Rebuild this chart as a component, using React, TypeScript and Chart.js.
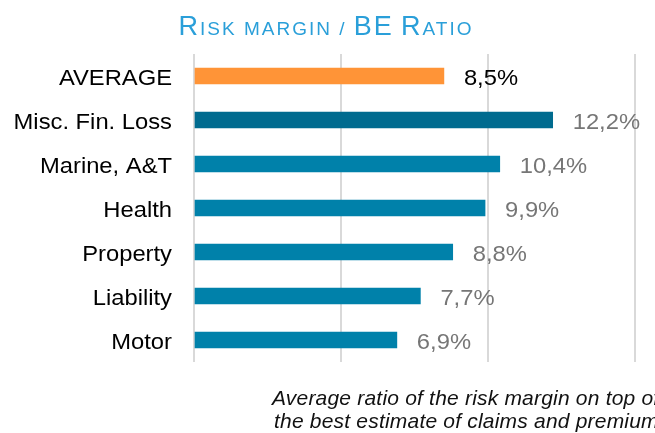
import React, { useEffect, useRef } from "react";
import { Chart, registerables } from "chart.js";

Chart.register(...registerables);

const categories = ["AVERAGE", "Misc. Fin. Loss", "Marine, A&T", "Health", "Property", "Liability", "Motor"];
const values = [8.5, 12.2, 10.4, 9.9, 8.8, 7.7, 6.9];
const barColors = ["#FF9437", "#006B8F", "#0081AA", "#0081AA", "#0081AA", "#0081AA", "#0081AA"];
const labelColors = ["#000000", "#767676", "#767676", "#767676", "#767676", "#767676", "#767676"];
const xTickValues = [0, 5, 10, 15];
const titleSegments = [
  { text: "R", big: true },
  { text: "ISK MARGIN / ", big: false },
  { text: "BE", big: true },
  { text: " ", big: false },
  { text: "R", big: true },
  { text: "ATIO", big: false },
];
const footnoteLines = [
  "Average ratio of the risk margin on top of",
  "the best estimate of claims and premium",
];

const FONT = "'Liberation Sans', Arial, sans-serif";
const STRETCH = 1.08;

const fmt = (v: number) => v.toFixed(1).replace(".", ",") + "%";

function drawStretched(ctx: CanvasRenderingContext2D, text: string, x: number, y: number) {
  ctx.save();
  ctx.translate(x, y);
  ctx.scale(STRETCH, 1);
  ctx.fillText(text, 0, 0);
  ctx.restore();
}

const textPlugin = {
  id: "customText",
  afterDatasetsDraw(chart: any) {
    const ctx = chart.ctx as CanvasRenderingContext2D;
    const meta = chart.getDatasetMeta(0);
    const yScale = chart.scales.y;
    ctx.save();
    ctx.font = `22px ${FONT}`;
    ctx.textBaseline = "middle";
    // value labels
    ctx.textAlign = "left";
    meta.data.forEach((bar: any, i: number) => {
      ctx.fillStyle = labelColors[i];
      drawStretched(ctx, fmt(values[i]), bar.x + 20, bar.y + 3);
    });
    // category labels
    ctx.textAlign = "right";
    ctx.fillStyle = "#000000";
    categories.forEach((c, i) => {
      const y = yScale.getPixelForValue(i);
      drawStretched(ctx, c, yScale.right - 22, y + 3);
    });
    ctx.restore();
  },
  afterDraw(chart: any) {
    const ctx = chart.ctx as CanvasRenderingContext2D;
    ctx.save();
    // title
    (ctx as any).letterSpacing = "2px";
    ctx.textBaseline = "alphabetic";
    ctx.textAlign = "left";
    ctx.fillStyle = "#2A9FD9";
    const bigFont = `27px ${FONT}`;
    const smallFont = `19px ${FONT}`;
    let total = 0;
    const widths = titleSegments.map((s) => {
      ctx.font = s.big ? bigFont : smallFont;
      const w = ctx.measureText(s.text).width;
      total += w;
      return w;
    });
    let x = 326 - total / 2;
    titleSegments.forEach((s, i) => {
      ctx.font = s.big ? bigFont : smallFont;
      ctx.fillText(s.text, x, 35);
      x += widths[i];
    });
    // footnote
    (ctx as any).letterSpacing = "0.2px";
    ctx.font = `italic 21px ${FONT}`;
    ctx.fillStyle = "#111111";
    ctx.fillText(footnoteLines[0], 272, 405);
    ctx.fillText(footnoteLines[1], 274, 428);
    ctx.restore();
  },
};

export default function App() {
  const ref = useRef<HTMLCanvasElement | null>(null);
  useEffect(() => {
    if (!ref.current) return;
    const chart = new Chart(ref.current, {
      type: "bar",
      data: {
        labels: categories,
        datasets: [
          {
            data: values,
            backgroundColor: barColors,
            barThickness: 16,
            borderWidth: 0,
          },
        ],
      },
      options: {
        indexAxis: "y",
        responsive: false,
        animation: false,
        layout: { padding: { top: 54, bottom: 71, left: 0, right: 20 } },
        plugins: {
          legend: { display: false },
          title: { display: false },
          tooltip: { enabled: false },
        },
        scales: {
          x: {
            type: "linear",
            min: xTickValues[0],
            max: xTickValues[xTickValues.length - 1],
            afterBuildTicks: (scale: any) => {
              scale.ticks = xTickValues.map((v) => ({ value: v }));
            },
            afterFit: (scale: any) => {
              scale.height = 0;
            },
            ticks: { display: false },
            grid: { color: "#D9D9D9", lineWidth: 2, drawTicks: false },
            border: { display: false },
          },
          y: {
            afterFit: (scale: any) => {
              scale.width = 194;
            },
            ticks: { display: false },
            grid: { display: false, drawTicks: false },
            border: { display: false },
          },
        },
      },
      plugins: [textPlugin],
    } as any);
    return () => chart.destroy();
  }, []);
  return (
    <div style={{ position: "absolute", left: 0, top: 0, width: 655, height: 433, background: "#ffffff" }}>
      <canvas ref={ref} width={655} height={433} />
    </div>
  );
}
